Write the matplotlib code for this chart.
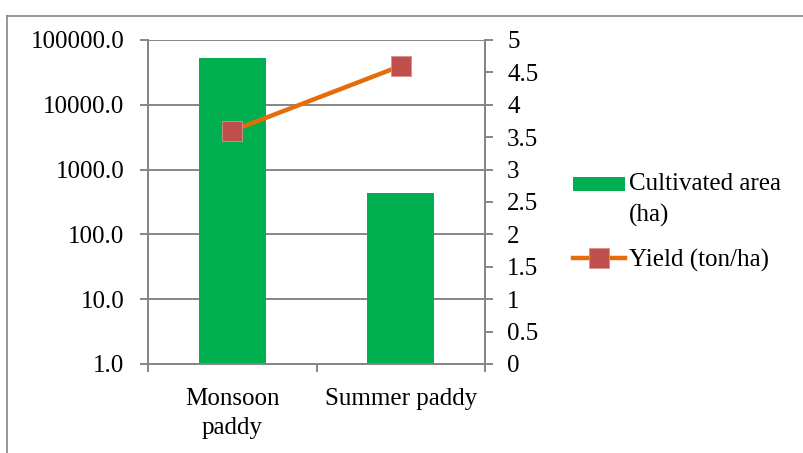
import numpy as np
import matplotlib
matplotlib.use('Agg')
import matplotlib.pyplot as plt
from matplotlib.lines import Line2D
from matplotlib.patches import Rectangle
from matplotlib.legend_handler import HandlerPatch
from matplotlib.ticker import FixedLocator, FuncFormatter

plt.rcParams['font.family'] = ['Liberation Serif', 'DejaVu Serif']

categories = ['Monsoon\npaddy', 'Summer paddy']
area = [52000, 430]          # cultivated area (ha)
yield_t = [3.6, 4.6]         # yield (ton/ha)

grey = '#868686'
fs = 18

fig = plt.figure(figsize=(8.04, 4.53), dpi=100)
ax = fig.add_axes([148/804, 1-364/453, (485-148)/804, (364-40)/453])
ax2 = ax.twinx()

x = np.arange(len(categories))
bars = ax.bar(x, area, 0.4, color='#00B050', zorder=2)
ax.set_yscale('log')
ax.set_ylim(1, 100000)
ax.set_xlim(-0.5, 1.5)
ax.yaxis.set_major_locator(FixedLocator([1, 10, 100, 1000, 10000, 100000]))
ax.yaxis.set_minor_locator(FixedLocator([]))
ax.yaxis.set_major_formatter(FuncFormatter(lambda v, p: '%.1f' % v))
ax.grid(axis='y', color=grey, linewidth=1.4, zorder=0)
ax.set_axisbelow(True)

ax.set_xticks([-0.5, 0.5, 1.5])
ax.set_xticklabels([])
ax.set_xticks(x, minor=True)
ax.set_xticklabels(categories, minor=True, fontsize=fs, linespacing=1.45)
ax.tick_params(axis='x', which='major', length=6, color=grey, width=1.4)
ax.tick_params(axis='x', which='minor', length=0, pad=17)
ax.tick_params(axis='y', length=6, color=grey, width=1.4, labelsize=fs, pad=11)

line, = ax2.plot(x, yield_t, color='#E46C0A', linewidth=3.2, marker='s', markersize=14,
                 markerfacecolor='#C0504D', markeredgecolor='#D9908E', markeredgewidth=0.6,
                 zorder=3)
ax2.set_ylim(0, 5)
ax2.set_yticks(np.arange(0, 5.01, 0.5))
ax2.yaxis.set_major_formatter(FuncFormatter(lambda v, p: '%g' % v))
ax2.tick_params(axis='y', length=6, color=grey, width=1.4, labelsize=fs, pad=10)

for a in (ax, ax2):
    a.spines['top'].set_visible(False)
    for s in ('left', 'right', 'bottom'):
        a.spines[s].set_color(grey)
        a.spines[s].set_linewidth(1.4)

# legend patch sits beside the first line of a two-line label
def top_patch(legend, orig_handle, xdescent, ydescent, width, height, fontsize):
    h = 0.55 * fontsize
    return Rectangle((-xdescent, -ydescent + height / 2 - h / 2 + 0.64 * fontsize), width, h)

leg = fig.legend(handles=[bars.patches[0], line], labels=['Cultivated area\n(ha)', 'Yield (ton/ha)'],
                 loc='upper left', bbox_to_anchor=(560/804, 1-161/453), frameon=False,
                 fontsize=fs, handlelength=2.1, handletextpad=0.15, labelspacing=0.85,
                 handleheight=0.7, borderpad=0,
                 handler_map={type(bars.patches[0]): HandlerPatch(patch_func=top_patch)})
leg.get_texts()[0].set_linespacing(1.5)

# outer chart frame
fig.add_artist(Line2D([7/804, 7/804], [0, 1-16/453], color=grey, linewidth=1.2))
fig.add_artist(Line2D([7/804, 1], [1-16/453, 1-16/453], color=grey, linewidth=1.2))

plt.savefig('out.png', dpi=100)
